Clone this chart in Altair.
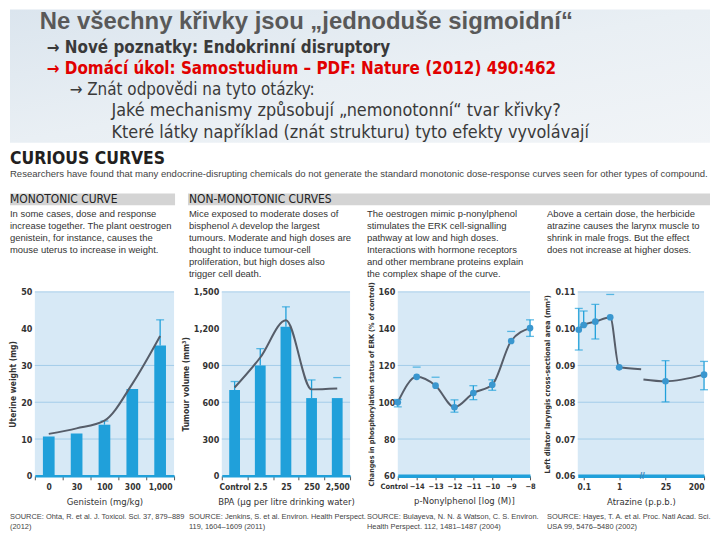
import altair as alt
import pandas as pd

# ---------------- data ----------------
genistein_doses = ["0", "30", "100", "300", "1,000"]
uterine_weight = [10.7, 11.5, 13.9, 23.6, 35.4]
genistein_fit = [11.4, 12.9, 15.0, 25.0, 38.0]
genistein_err_dose = ["100", "1,000"]
genistein_err_lo = [13.9, 35.4]
genistein_err_hi = [14.9, 42.4]
genistein_grid = [10, 20, 30, 50]
genistein_yticks = [0, 10, 20, 30, 40, 50]

bpa_doses = ["Control", "2.5", "25", "250", "2,500"]
tumour_volume = [700, 900, 1215, 634, 634]
bpa_fit = [720, 965, 1268, 705, 712]
bpa_err_dose = ["Control", "2.5", "25", "250", "2,500"]
bpa_err_lo = [700, 900, 1215, 634, 801]
bpa_err_hi = [769, 1037, 1378, 782, 801]
bpa_grid = [300, 600, 900, 1500]
bpa_yticks = [0, 300, 600, 900, 1200, 1500]

np_doses = ["Control", "\u221214", "\u221213", "\u221212", "\u221211", "\u221210", "\u22129", "\u22128"]
erk_status = [100, 113.8, 109, 97.3, 105, 109.5, 133.3, 140.3]
np_err_dose = ["Control", "\u221212", "\u221211", "\u221210", "\u22128"]
np_err_lo = [97.5, 94.6, 101.4, 106.5, 135.8]
np_err_hi = [101.5, 101.3, 109.0, 112.2, 144.8]
np_cap_only_dose = ["\u221214", "\u221213", "\u22129"]
np_cap_only_val = [119.1, 113.6, 138.5]
np_grid = [80, 120, 160]
np_yticks = [60, 80, 100, 120, 140, 160]

atz_pos = [0.08, 0.47, 1.39, 2.57, 3.28, 6.95, 10.0]
larynx_area = [0.0997, 0.1010, 0.1019, 0.1031, 0.0895, 0.0857, 0.0875]
atz_line_seg = ["a", "a", "a", "a", "a", "a", "b", "b", "b"]
atz_line_pos = [0.08, 0.47, 1.39, 2.57, 3.28, 5.02, 5.2, 6.95, 10.0]
atz_line_val = [0.0997, 0.1010, 0.1019, 0.1031, 0.0895, 0.0890, 0.0862, 0.0857, 0.0875]
atz_err_pos = [0.08, 0.47, 1.39, 6.95, 10.0]
atz_err_lo = [0.0942, 0.1010, 0.0972, 0.0801, 0.0834]
atz_err_hi = [0.1055, 0.1048, 0.1066, 0.0913, 0.0911]
atz_cap_only_pos = [2.57]
atz_cap_only_val = [0.1093]
atz_tick_pos = [0.47, 3.28, 6.95, 10.0]
atz_tick_labels = ["0.1", "1", "25", "200"]
atz_break_pos = [5.1]
atz_grid = [0.07, 0.08, 0.09, 0.11]
atz_yticks = [0.06, 0.07, 0.08, 0.09, 0.10, 0.11]

# ---------------- styles ----------------
SANS = "'Liberation Sans', Arial, sans-serif"
NARROW = "'Liberation Sans Narrow', 'DejaVu Sans Condensed', 'Arial Narrow', sans-serif"
BLUE = "#20a0da"
DOT = "#3a97cf"
LINE = "#565d69"
GRID = "#a3cde9"
BG = "#d7e9f6"
TXT = "#333333"
PANEL_H = 185


def xaxis_common(title, **kw):
    return alt.Axis(title=title, labelAngle=0, domainColor=BLUE, domainWidth=kw.pop("dw", 2.5),
                    tickColor="#555", tickSize=4, tickWidth=1, labelPadding=3, titlePadding=5,
                    labelFont=NARROW, labelFontSize=kw.pop("lfs", 8.5), labelFontWeight="bold",
                    labelColor=TXT, titleFont=NARROW, titleFontSize=9.5, titleFontWeight="normal",
                    titleColor=TXT, grid=False, **kw)


def yaxis_common(title, values, fmt, tfs=8.5):
    return alt.Axis(title=title, values=values, format=fmt, grid=False, domain=False, ticks=False,
                    labelPadding=3, titlePadding=3, labelFont=NARROW, labelFontSize=9,
                    labelFontWeight="bold", labelColor=TXT, titleFont=NARROW, titleFontSize=tfs,
                    titleFontWeight="bold", titleColor=TXT)


def band_panel(doses, vals, fit, ed, elo, ehi, grid, ydom, yticks, yfmt, ytitle, xtitle, width):
    xs = alt.Scale(domain=doses, paddingInner=0, paddingOuter=0)
    ys = alt.Scale(domain=ydom, nice=False, zero=False)
    xa = xaxis_common(xtitle, tickBand="extent")
    ya = yaxis_common(ytitle, yticks, yfmt)
    main = pd.DataFrame({"dose": doses, "value": vals, "fit": fit})
    err = pd.DataFrame({"dose": ed, "lo": elo, "hi": ehi})
    g = pd.DataFrame({"g": grid})
    grid_l = alt.Chart(g).mark_rule(color=GRID, strokeWidth=1).encode(
        y=alt.Y("g:Q", scale=ys, axis=ya))
    bars = alt.Chart(main).mark_bar(color=BLUE, width=alt.RelativeBandSize(0.42)).encode(
        x=alt.X("dose:N", scale=xs, axis=xa), y=alt.Y("value:Q", scale=ys, axis=ya))
    rules = alt.Chart(err).mark_rule(color=BLUE, strokeWidth=1.3).encode(
        x=alt.X("dose:N", scale=xs, axis=xa), y=alt.Y("lo:Q", scale=ys, axis=ya), y2="hi:Q")
    caps = alt.Chart(err).mark_tick(color=BLUE, orient="horizontal", size=8, thickness=1.3).encode(
        x=alt.X("dose:N", scale=xs, axis=xa), y=alt.Y("hi:Q", scale=ys, axis=ya))
    line = alt.Chart(main).mark_line(color=LINE, strokeWidth=2, interpolate="monotone").encode(
        x=alt.X("dose:N", scale=xs, axis=xa), y=alt.Y("fit:Q", scale=ys, axis=ya))
    return alt.layer(grid_l, bars, rules, caps, line).properties(
        width=width, height=PANEL_H, view=alt.ViewBackground(fill=BG, strokeWidth=0))


p1 = band_panel(genistein_doses, uterine_weight, genistein_fit, genistein_err_dose,
                genistein_err_lo, genistein_err_hi, genistein_grid, [0, 50], genistein_yticks,
                "d", "Uterine weight (mg)", "Genistein (mg/kg)", 140)
p2 = band_panel(bpa_doses, tumour_volume, bpa_fit, bpa_err_dose, bpa_err_lo, bpa_err_hi,
                bpa_grid, [0, 1500], bpa_yticks, ",d", "Tumour volume (mm\u00b3)",
                "BPA (\u00b5g per litre drinking water)", 129)

# panel 3
xs3 = alt.Scale(type="point", domain=np_doses, padding=0)
ys3 = alt.Scale(domain=[60, 160], nice=False, zero=False)
xa3 = xaxis_common("p-Nonylphenol [log (M)]", dw=3.5, lfs=7.5,
                   labelOffset={"condition": {"test": "datum.value === 'Control'", "value": -4},
                                "value": 0})
ya3 = yaxis_common("Changes in phosphorylation status of ERK (% of control)", np_yticks, "d", 7.2)
d3 = pd.DataFrame({"dose": np_doses, "value": erk_status})
e3 = pd.DataFrame({"dose": np_err_dose, "lo": np_err_lo, "hi": np_err_hi})
c3 = pd.DataFrame({"dose": np_err_dose * 2 + np_cap_only_dose,
                   "c": np_err_lo + np_err_hi + np_cap_only_val})
p3 = alt.layer(
    alt.Chart(pd.DataFrame({"g": np_grid})).mark_rule(color=GRID).encode(
        y=alt.Y("g:Q", scale=ys3, axis=ya3)),
    alt.Chart(e3).mark_rule(color=BLUE, strokeWidth=1.3).encode(
        x=alt.X("dose:N", scale=xs3, axis=xa3), y=alt.Y("lo:Q", scale=ys3, axis=ya3), y2="hi:Q"),
    alt.Chart(c3).mark_tick(color=BLUE, orient="horizontal", size=8, thickness=1.3).encode(
        x=alt.X("dose:N", scale=xs3, axis=xa3), y=alt.Y("c:Q", scale=ys3, axis=ya3)),
    alt.Chart(d3).mark_line(color=LINE, strokeWidth=2, interpolate="monotone").encode(
        x=alt.X("dose:N", scale=xs3, axis=xa3), y=alt.Y("value:Q", scale=ys3, axis=ya3)),
    alt.Chart(d3).mark_circle(color=DOT, size=45, opacity=1).encode(
        x=alt.X("dose:N", scale=xs3, axis=xa3), y=alt.Y("value:Q", scale=ys3, axis=ya3)),
).properties(width=133, height=PANEL_H, view=alt.ViewBackground(fill=BG, strokeWidth=0))

# panel 4
label_expr = " : ".join(
    f"datum.value < {p + 0.1} ? '{l}'" for p, l in zip(atz_tick_pos[:-1], atz_tick_labels[:-1])
) + f" : '{atz_tick_labels[-1]}'"
xs4 = alt.Scale(domain=[0, 10], nice=False, zero=False)
ys4 = alt.Scale(domain=[0.06, 0.11], nice=False, zero=False)
xa4 = xaxis_common("Atrazine (p.p.b.)", dw=3.5, values=atz_tick_pos, labelExpr=label_expr)
ya4 = yaxis_common("Left dilator laryngis cross-sectional area (mm\u00b2)", atz_yticks, ".2f", 7.5)
d4 = pd.DataFrame({"pos": atz_pos, "value": larynx_area})
l4 = pd.DataFrame({"pos": atz_line_pos, "value": atz_line_val, "seg": atz_line_seg})
e4 = pd.DataFrame({"pos": atz_err_pos, "lo": atz_err_lo, "hi": atz_err_hi})
c4 = pd.DataFrame({"pos": atz_err_pos * 2 + atz_cap_only_pos,
                   "c": atz_err_lo + atz_err_hi + atz_cap_only_val})
b4 = pd.DataFrame({"pos": atz_break_pos, "v": [0.06]})
p4 = alt.layer(
    alt.Chart(pd.DataFrame({"g": atz_grid})).mark_rule(color=GRID).encode(
        y=alt.Y("g:Q", scale=ys4, axis=ya4)),
    alt.Chart(e4).mark_rule(color=BLUE, strokeWidth=1.3).encode(
        x=alt.X("pos:Q", scale=xs4, axis=xa4), y=alt.Y("lo:Q", scale=ys4, axis=ya4), y2="hi:Q"),
    alt.Chart(c4).mark_tick(color=BLUE, orient="horizontal", size=8, thickness=1.3).encode(
        x=alt.X("pos:Q", scale=xs4, axis=xa4), y=alt.Y("c:Q", scale=ys4, axis=ya4)),
    alt.Chart(l4).mark_line(color=LINE, strokeWidth=2, interpolate="monotone").encode(
        x=alt.X("pos:Q", scale=xs4, axis=xa4), y=alt.Y("value:Q", scale=ys4, axis=ya4),
        detail="seg:N"),
    alt.Chart(d4).mark_circle(color=DOT, size=45, opacity=1).encode(
        x=alt.X("pos:Q", scale=xs4, axis=xa4), y=alt.Y("value:Q", scale=ys4, axis=ya4)),
    alt.Chart(b4).mark_text(text="//", fontSize=9, fontWeight="bold", color="#3f88bb",
                            baseline="middle").encode(
        x=alt.X("pos:Q", scale=xs4, axis=xa4), y=alt.Y("v:Q", scale=ys4, axis=ya4)),
).properties(width=127, height=PANEL_H, view=alt.ViewBackground(fill=BG, strokeWidth=0))

# ---------------- header text ----------------
slide_title = "Ne v\u0161echny k\u0159ivky jsou \u201ejednodu\u0161e sigmoidn\u00ed\u201c"
bullet_1 = "\u2192 Nov\u00e9 poznatky: Endokrinn\u00ed disruptory"
bullet_2 = "\u2192 Dom\u00e1c\u00ed \u00fakol: Samostudium \u2013 PDF: Nature (2012) 490:462"
bullet_3 = "\u2192 Zn\u00e1t odpov\u011bdi na tyto ot\u00e1zky:"
question_1 = "Jak\u00e9 mechanismy zp\u016fsobuj\u00ed \u201enemonotonn\u00ed\u201c tvar k\u0159ivky?"
question_2 = "Kter\u00e9 l\u00e1tky nap\u0159\u00edklad (zn\u00e1t strukturu) tyto efekty vyvol\u00e1vaj\u00ed"
fig_title = "CURIOUS CURVES"
fig_sub = ("Researchers have found that many endocrine-disrupting chemicals do not generate the "
           "standard monotonic dose-response curves seen for other types of compound.")
head_1 = "MONOTONIC CURVE"
head_2 = "NON-MONOTONIC CURVES"
para_1 = ["In some cases, dose and response", "increase together. The plant oestrogen",
          "genistein, for instance, causes the", "mouse uterus to increase in weight."]
para_2 = ["Mice exposed to moderate doses of", "bisphenol A develop the largest",
          "tumours. Moderate and high doses are", "thought to induce tumour-cell",
          "proliferation, but high doses also", "trigger cell death."]
para_3 = ["The oestrogen mimic p-nonylphenol", "stimulates the ERK cell-signalling",
          "pathway at low and high doses.", "Interactions with hormone receptors",
          "and other membrane proteins explain", "the complex shape of the curve."]
para_4 = ["Above a certain dose, the herbicide", "atrazine causes the larynx muscle to",
          "shrink in male frogs. But the effect", "does not increase at higher doses."]
src_1 = ["SOURCE: Ohta, R. et al. J. Toxicol. Sci. 37, 879\u2013889", "(2012)"]
src_2 = ["SOURCE: Jenkins, S. et al. Environ. Health Perspect.", "119, 1604\u20131609 (2011)"]
src_3 = ["SOURCE: Bulayeva, N. N. & Watson, C. S. Environ.", "Health Perspect. 112, 1481\u20131487 (2004)"]
src_4 = ["SOURCE: Hayes, T. A. et al. Proc. Natl Acad. Sci.", "USA 99, 5476\u20135480 (2002)"]

dummy = alt.Data(values=[{"k": 0}])


def T(text, x, y, size, color=TXT, weight="normal", font=SANS, lh=None, baseline="middle"):
    kw = dict(text=text, fontSize=size, color=color, fontWeight=weight, font=font,
              align="left", baseline=baseline)
    if lh:
        kw["lineHeight"] = lh
    return alt.Chart(dummy).mark_text(**kw).encode(x=alt.value(x), y=alt.value(y))


def R(x, x2, y, y2, color):
    return alt.Chart(dummy).mark_rect(color=color).encode(
        x=alt.value(x), x2=alt.value(x2), y=alt.value(y), y2=alt.value(y2))


grad = alt.LinearGradient(gradient="linear", x1=0, y1=0, x2=1, y2=1, stops=[
    alt.GradientStop(offset=0, color="#dbe5ee"), alt.GradientStop(offset=0.5, color="#e9eff4"),
    alt.GradientStop(offset=1, color="#f1f4f7")])

header = alt.layer(
    R(-25, 679, 0, 134, grad),
    T(slide_title, 5, 20, 24, "#595959", "bold", SANS, baseline="alphabetic"),
    T(bullet_1, 12, 39, 17, "#3a3a3a", "bold", NARROW),
    T(bullet_2, 12, 60, 17, "#e10000", "bold", NARROW),
    T(bullet_3, 35, 81, 17, "#3a3a3a", "normal", NARROW),
    T(question_1, 77, 102, 18, "#3a3a3a", "normal", NARROW),
    T(question_2, 77, 124, 18, "#3a3a3a", "normal", NARROW),
    T(fig_title, -25, 150, 17.5, "#231f20", "bold", NARROW),
    T(fig_sub, -25, 165, 9.6, "#444"),
    R(-25, 141, 185, 197, "#d4d4d4"),
    R(154, 679, 185, 197, "#d4d4d4"),
    T(head_1, -25, 191, 12, "#222", "normal", NARROW),
    T(head_2, 155, 191, 12, "#222", "normal", NARROW),
    T(para_1, -25, 206, 9.5, "#333", lh=12),
    T(para_2, 155, 206, 9.5, "#333", lh=12),
    T(para_3, 334, 206, 9.5, "#333", lh=12),
    T(para_4, 515, 206, 9.5, "#333", lh=12),
    T(src_1, -25, 510, 7.5, "#444", lh=10),
    T(src_2, 155, 510, 7.5, "#444", lh=10),
    T(src_3, 334, 510, 7.5, "#444", lh=10),
    T(src_4, 515, 510, 7.5, "#444", lh=10),
).properties(width=671, height=284, view=alt.ViewBackground(strokeWidth=0))

panels = alt.hconcat(p1, p2, p3, p4, spacing=48, bounds="flush")
chart = alt.vconcat(header, panels, spacing=0, bounds="flush").properties(
    padding=0).configure_view(strokeWidth=0)

chart.save("out.html", embed_options={"renderer": "svg", "actions": False})
